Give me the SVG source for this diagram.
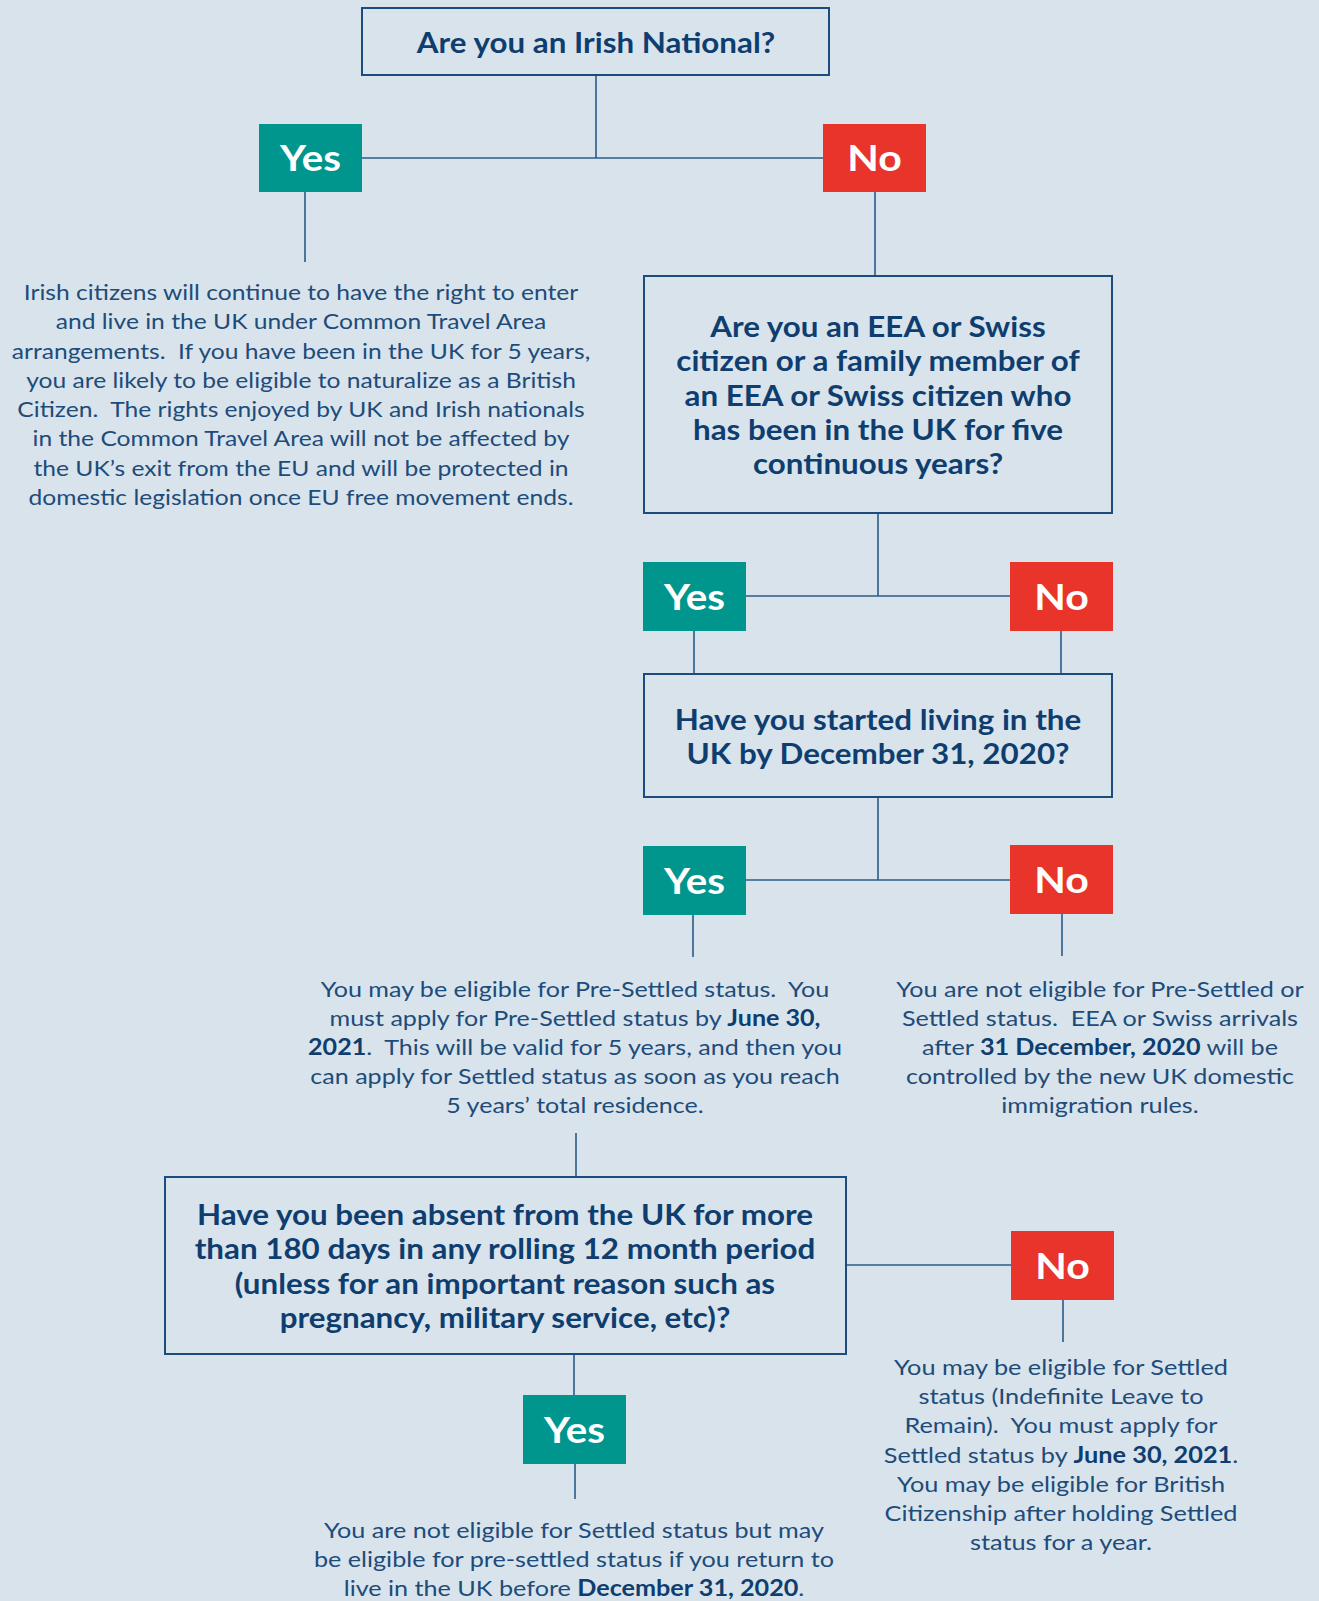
<svg xmlns="http://www.w3.org/2000/svg" width="1319" height="1601" viewBox="0 0 1319 1601">
<style>
.bg{fill:#d9e3ec}
.q rect{fill:none;stroke:#1b4c7d;stroke-width:2}
.q text{font-family:Lato,"Liberation Sans",sans-serif;font-weight:700;font-size:28px;fill:#0e3e6f;text-anchor:middle}
.yes rect{fill:#00968e}
.no rect{fill:#e8342a}
.yes text,.no text{font-family:Lato,"Liberation Sans",sans-serif;font-weight:700;font-size:36px;fill:#ffffff;text-anchor:middle}
.t text{font-family:Lato,"Liberation Sans",sans-serif;font-weight:400;font-size:22px;fill:#1d4c7a;text-anchor:middle;white-space:pre}
.b{font-weight:700;fill:#0e3e6f}
#connectors line{stroke:#2a5b8a;stroke-width:1.6}
</style>
<rect class="bg" x="0" y="0" width="1319" height="1601"/>
<g id="connectors">
<line x1="596" y1="75" x2="596" y2="158"/>
<line x1="361" y1="158" x2="823" y2="158"/>
<line x1="305" y1="192" x2="305" y2="262"/>
<line x1="875" y1="192" x2="875" y2="276"/>
<line x1="878" y1="513" x2="878" y2="596"/>
<line x1="746" y1="596" x2="1010" y2="596"/>
<line x1="694" y1="631" x2="694" y2="674"/>
<line x1="1061" y1="631" x2="1061" y2="674"/>
<line x1="878" y1="797" x2="878" y2="880"/>
<line x1="746" y1="880" x2="1010" y2="880"/>
<line x1="693" y1="915" x2="693" y2="957"/>
<line x1="1062" y1="914" x2="1062" y2="956"/>
<line x1="576" y1="1133" x2="576" y2="1177"/>
<line x1="846" y1="1265" x2="1011" y2="1265"/>
<line x1="1063" y1="1300" x2="1063" y2="1342"/>
<line x1="574" y1="1354" x2="574" y2="1395"/>
<line x1="575" y1="1464" x2="575" y2="1499"/>
</g>
<g id="q1" class="q">
<rect x="362" y="8" width="467" height="67"/>
<g transform="translate(596 0) scale(1.12 1)">
<text x="0" y="53">Are you an Irish National?</text>
</g>
</g>
<g id="yes1" class="yes">
<rect x="259" y="124" width="103" height="68"/>
<text transform="translate(310.5 171) scale(1.12 1)">Yes</text>
</g>
<g id="no1" class="no">
<rect x="823" y="124" width="103" height="68"/>
<text transform="translate(874.5 171) scale(1.14 1)">No</text>
</g>
<g id="irish" class="t" transform="translate(301 0) scale(1.12 1)">
<text x="0" y="300">Irish citizens will continue to have the right to enter</text>
<text x="0" y="329.3">and live in the UK under Common Travel Area</text>
<text x="0" y="358.6">arrangements.  If you have been in the UK for 5 years,</text>
<text x="0" y="388">you are likely to be eligible to naturalize as a British</text>
<text x="0" y="417.2">Citizen.  The rights enjoyed by UK and Irish nationals</text>
<text x="0" y="446.5">in the Common Travel Area will not be affected by</text>
<text x="0" y="475.8">the UK’s exit from the EU and will be protected in</text>
<text x="0" y="505">domestic legislation once EU free movement ends.</text>
</g>
<g id="q2" class="q">
<rect x="644" y="276" width="468" height="237"/>
<g transform="translate(878 0) scale(1.12 1)">
<text x="0" y="337">Are you an EEA or Swiss</text>
<text x="0" y="371.3">citizen or a family member of</text>
<text x="0" y="405.6">an EEA or Swiss citizen who</text>
<text x="0" y="439.9">has been in the UK for five</text>
<text x="0" y="474.2">continuous years?</text>
</g>
</g>
<g id="yes2" class="yes">
<rect x="643" y="562" width="103" height="69"/>
<text transform="translate(694.5 609.5) scale(1.12 1)">Yes</text>
</g>
<g id="no2" class="no">
<rect x="1010" y="562" width="103" height="69"/>
<text transform="translate(1061.5 609.5) scale(1.14 1)">No</text>
</g>
<g id="q3" class="q">
<rect x="644" y="674" width="468" height="123"/>
<g transform="translate(878 0) scale(1.12 1)">
<text x="0" y="730">Have you started living in the</text>
<text x="0" y="764">UK by December 31, 2020?</text>
</g>
</g>
<g id="yes3" class="yes">
<rect x="643" y="846" width="103" height="69"/>
<text transform="translate(694.5 893.5) scale(1.12 1)">Yes</text>
</g>
<g id="no3" class="no">
<rect x="1010" y="845" width="103" height="69"/>
<text transform="translate(1061.5 892.5) scale(1.14 1)">No</text>
</g>
<g id="presettled" class="t" transform="translate(575 0) scale(1.14 1)">
<text x="0" y="996.7">You may be eligible for Pre-Settled status.  You</text>
<text x="0" y="1025.9">must apply for Pre-Settled status by <tspan class="b">June 30,</tspan></text>
<text x="0" y="1055.1"><tspan class="b">2021</tspan>.  This will be valid for 5 years, and then you</text>
<text x="0" y="1084.3">can apply for Settled status as soon as you reach</text>
<text x="0" y="1113.5">5 years’ total residence.</text>
</g>
<g id="noteligible" class="t" transform="translate(1100 0) scale(1.145 1)">
<text x="0" y="996.7">You are not eligible for Pre-Settled or</text>
<text x="0" y="1025.9">Settled status.  EEA or Swiss arrivals</text>
<text x="0" y="1055.1">after <tspan class="b">31 December, 2020</tspan> will be</text>
<text x="0" y="1084.3">controlled by the new UK domestic</text>
<text x="0" y="1113.5">immigration rules.</text>
</g>
<g id="q4" class="q">
<rect x="165" y="1177" width="681" height="177"/>
<g transform="translate(505 0) scale(1.12 1)">
<text x="0" y="1225">Have you been absent from the UK for more</text>
<text x="0" y="1259.5">than 180 days in any rolling 12 month period</text>
<text x="0" y="1294">(unless for an important reason such as</text>
<text x="0" y="1328.5">pregnancy, military service, etc)?</text>
</g>
</g>
<g id="no4" class="no">
<rect x="1011" y="1231" width="103" height="69"/>
<text transform="translate(1062.5 1278.5) scale(1.14 1)">No</text>
</g>
<g id="settled" class="t" transform="translate(1061 0) scale(1.15 1)">
<text x="0" y="1375">You may be eligible for Settled</text>
<text x="0" y="1404.2">status (Indefinite Leave to</text>
<text x="0" y="1433.4">Remain).  You must apply for</text>
<text x="0" y="1462.6">Settled status by <tspan class="b">June 30, 2021</tspan>.</text>
<text x="0" y="1491.8">You may be eligible for British</text>
<text x="0" y="1521">Citizenship after holding Settled</text>
<text x="0" y="1550.2">status for a year.</text>
</g>
<g id="yes4" class="yes">
<rect x="523" y="1395" width="103" height="69"/>
<text transform="translate(574.5 1442.5) scale(1.12 1)">Yes</text>
</g>
<g id="absent" class="t" transform="translate(574 0) scale(1.145 1)">
<text x="0" y="1538.3">You are not eligible for Settled status but may</text>
<text x="0" y="1567.3">be eligible for pre-settled status if you return to</text>
<text x="0" y="1596.3">live in the UK before <tspan class="b">December 31, 2020</tspan>.</text>
</g>
</svg>
